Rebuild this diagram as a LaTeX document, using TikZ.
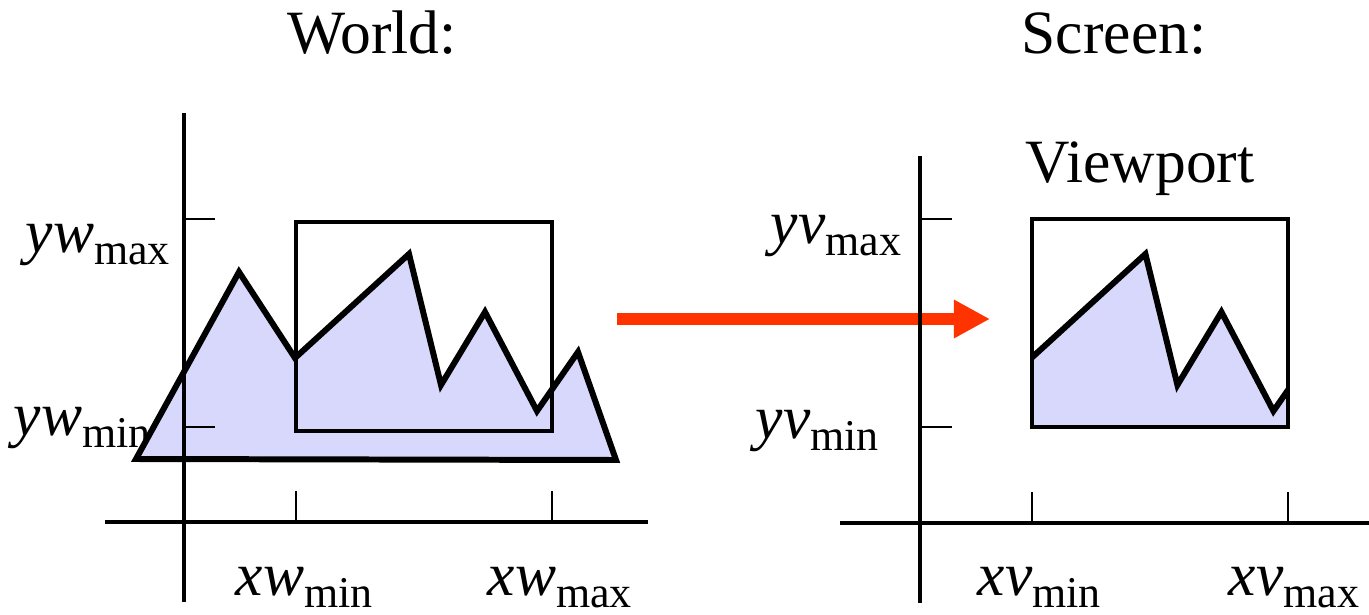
\documentclass[tikz,border=0pt]{standalone}
\usepackage{fontspec}
\setmainfont{Liberation Serif}
\usetikzlibrary{arrows.meta}
\definecolor{regionfill}{RGB}{216,216,252}
\definecolor{maparrow}{RGB}{255,51,0}
\newcommand{\subfont}{\fontsize{12.5}{13}\selectfont}
\newcommand{\coordlbl}[2]{\textit{#1}\raisebox{-0.21em}{\subfont #2}}
\newcommand{\worldshape}{(136,459) -- (239,272) -- (295,358) -- (409,254) -- (441,385)
  -- (485,312) -- (537,411) -- (578,352) -- (616,460) -- cycle}

\begin{document}
\begin{tikzpicture}[x=0.01cm,y=-0.01cm,
  axis/.style={line width=1pt},
  tick/.style={line width=0.55pt},
  clipbox/.style={line width=0.95pt},
  region/.style={fill=regionfill,draw=black,line width=1.7pt},
  lbl/.style={inner sep=0pt,anchor=base west,font=\fontsize{17.5}{20}\selectfont},
  heading/.style={inner sep=0pt,anchor=base,font=\fontsize{17.5}{20}\selectfont}]
\useasboundingbox (0,0) rectangle (1369,615);

% titles
\draw(372,53) node[heading] (world) {World:};
\draw(1114,53) node[heading] (screen) {Screen:};
\draw(1140,182) node[heading] (viewport) {Viewport};

% world labels
\draw(25,252) node[lbl] (ywmax) {\coordlbl{yw}{max}};
\draw(13,435) node[lbl] (ywmin) {\coordlbl{yw}{min}};
\draw(235,595) node[lbl] (xwmin) {\coordlbl{xw}{min}};
\draw(487,595) node[lbl] (xwmax) {\coordlbl{xw}{max}};

% world
\path[region] \worldshape;
\draw[axis] (184,113) -- (184,602);
\draw[axis] (105,522) -- (648,522);
\foreach \ty in {219,427}
  \draw[tick] (184,\ty) -- (215,\ty);
\foreach \tx in {296,552}
  \draw[tick] (\tx,491) -- (\tx,522);
\draw[clipbox] (296,222) rectangle (552,431); %window

% mapping
\coordinate (maptail) at (617,319);
\coordinate (maptip) at (990,319);
\draw[maparrow,line width=0.12cm,-{Triangle[length=0.36cm,width=0.36cm]}] (maptail) -- (maptip);

% screen labels
\draw(770,243) node[lbl] (yvmax) {\coordlbl{yv}{max}};
\draw(755,438) node[lbl] (yvmin) {\coordlbl{yv}{min}};
\draw(977,595) node[lbl] (xvmin) {\coordlbl{xv}{min}};
\draw(1228,595) node[lbl] (xvmax) {\coordlbl{xv}{max}};

% screen
\draw[axis] (920,156) -- (920,603);
\draw[axis] (840,523) -- (1369,523);
\foreach \ty in {219,427}
  \draw[tick] (920,\ty) -- (952,\ty);
\foreach \tx in {1032,1288}
  \draw[tick] (\tx,492) -- (\tx,523);
\begin{scope}
\clip (1032,219) rectangle (1288,427);
\path[region,xshift=7.36cm] \worldshape;
\end{scope}
\draw[clipbox] (1032,219) rectangle (1288,427); %viewport
\end{tikzpicture}
\end{document}
